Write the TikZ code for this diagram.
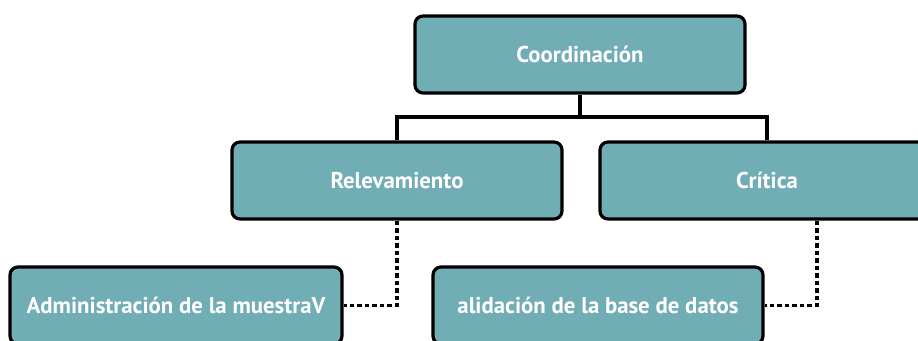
\documentclass[tikz,border=0pt]{standalone}
\usepackage{fontspec}
\setmainfont{PT Sans}
\definecolor{boxteal}{RGB}{113,173,181}
\begin{document}
\begin{tikzpicture}[x=1pt,y=-1pt,
  orgbox/.style={draw=black, line width=3.2pt, fill=boxteal, rounded corners=8pt,
    minimum width=330pt, minimum height=77pt, inner sep=0pt,
    text=white, font=\bfseries\fontsize{22.8}{26}\selectfont},
  solidline/.style={draw=black, line width=3.2pt},
  dotline/.style={draw=black, line width=3.2pt, dash pattern=on 4.5pt off 3pt}]
\useasboundingbox (0,0) rectangle (918,340);
\node[orgbox] (coord) at (580,54.5) {Coordinación};
\node[orgbox] (rel) at (397,180.5) {Relevamiento};
\node[orgbox, minimum width=334pt] (crit) at (767,180.5) {Crítica};
\node[orgbox, minimum width=332pt] (adm) at (176,305.5) {Administración de la muestraV};
\node[orgbox] (val) at (598,305.5) {alidación de la base de datos};
\coordinate (j) at (580,117);
\draw[solidline] (coord.south) -- (j);
\draw[solidline] (rel.north) |- (j) -| (crit.north);
\draw[dotline] (rel.south) |- (adm.east);
\draw[dotline] ([xshift=50pt]crit.south) |- (val.east);
\end{tikzpicture}
\end{document}
